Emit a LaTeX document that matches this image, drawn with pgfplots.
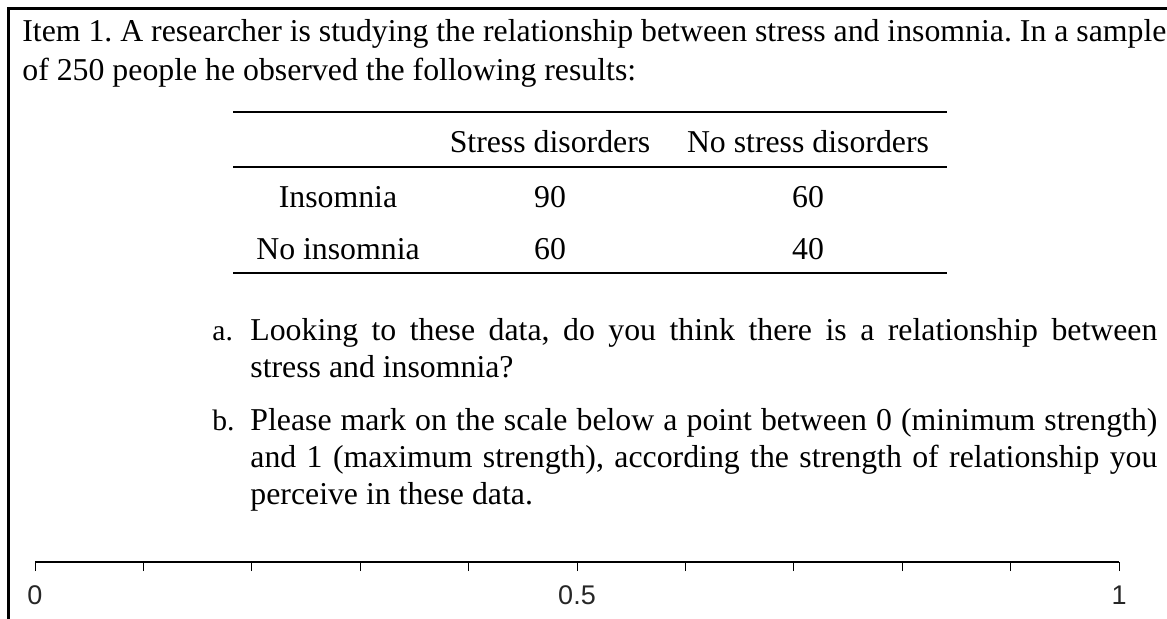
\documentclass[border=0pt]{standalone}
\usepackage{pgfplots}
\pgfplotsset{compat=1.18}
\usepackage{fontspec}
\setmainfont{Liberation Serif}
\newfontfamily\scalefont{Liberation Sans}
\frenchspacing
\begin{document}
\frenchspacing
\begin{tikzpicture}
\path[use as bounding box] (0,0) rectangle (583.5pt,-309pt);
\begin{scope}[x=0.5pt,y=-0.5pt]
\tikzset{
  txt/.style={anchor=base west, inner sep=0pt, font=\fontsize{15.9}{19}\selectfont},
  txtc/.style={anchor=base, inner sep=0pt, font=\fontsize{15.9}{19}\selectfont},
  lbl/.style={anchor=base west, inner sep=0pt, font=\fontsize{14.8}{18}\selectfont}
}
\draw[line width=1.25pt] (8.5,625) -- (8.5,8.5) -- (1175,8.5);
\node[txt] at (22,41) {\makebox[572pt][s]{Item 1. A researcher is studying the relationship between stress and insomnia. In a sample}};
\node[txt] at (22,80) {of 250 people he observed the following results:};
% table
\draw[line width=1pt] (233,111.5) -- (947,111.5);
\draw[line width=1pt] (233,167) -- (947,167);
\draw[line width=1pt] (233,273) -- (947,273);
\node[txtc] at (550,152) {Stress disorders};
\node[txtc] at (808,152) {No stress disorders};
\node[txtc] at (338,207) {Insomnia};
\node[txtc] at (550,207) {90};
\node[txtc] at (808,207) {60};
\node[txtc] at (338,259) {No insomnia};
\node[txtc] at (550,259) {60};
\node[txtc] at (808,259) {40};
% items
\node[lbl] at (212,340) {a.};
\node[txt] at (250,340) {\makebox[453.5pt][s]{Looking to these data, do you think there is a relationship between}};
\node[txt] at (250,377) {stress and insomnia?};
\node[lbl] at (212,430) {b.};
\node[txt] at (250,430) {\makebox[453.5pt][s]{Please mark on the scale below a point between 0 (minimum strength)}};
\node[txt] at (250,467) {\makebox[453.5pt][s]{and 1 (maximum strength), according the strength of relationship you}};
\node[txt] at (250,504) {perceive in these data.};
\end{scope}
\begin{axis}[
  at={(17.5pt,-281pt)}, anchor=south west,
  scale only axis, width=542pt, height=5pt,
  xmin=0, xmax=1, ymin=0, ymax=1,
  hide y axis, axis x line=bottom,
  x axis line style={-, line width=0.7pt, black},
  xtick={0,0.1,0.2,0.3,0.4,0.5,0.6,0.7,0.8,0.9,1},
  xticklabels={0,,,,,0.5,,,,,1},
  tick align=outside, major tick length=4.5pt,
  every tick/.style={black, line width=0.5pt},
  xticklabel style={font=\scalefont\fontsize{13.5}{14}\selectfont, text=black!85, yshift=-4pt},
  /pgf/number format/assume math mode=true,
  clip=false]
\end{axis}
\end{tikzpicture}
\end{document}
